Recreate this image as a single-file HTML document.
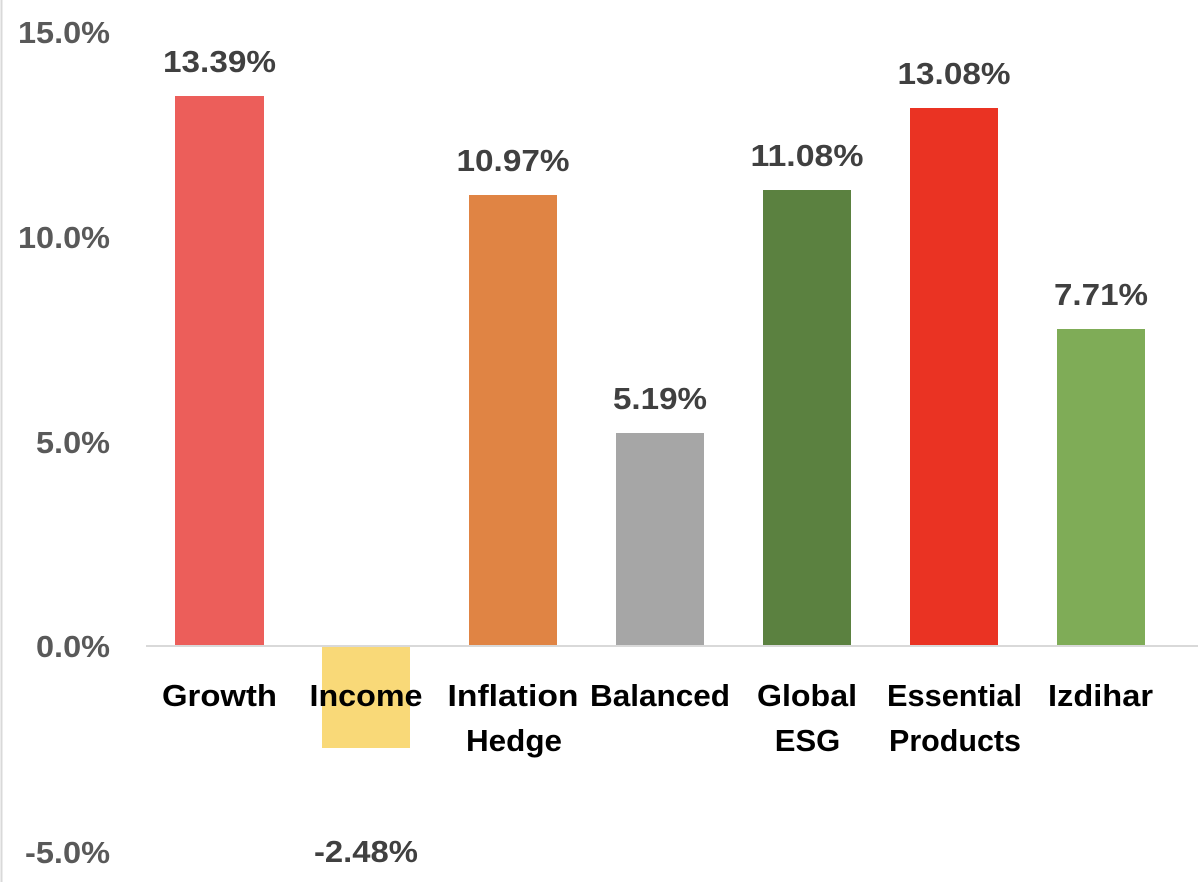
<!DOCTYPE html>
<html><head><style>
body{margin:0;background:#fff;}
svg text{font-family:"Liberation Sans",sans-serif;font-weight:bold;}
</style></head><body>
<svg width="1198" height="882" xmlns="http://www.w3.org/2000/svg">
<line x1="1.5" y1="0" x2="1.5" y2="882" stroke="#d9d9d9" stroke-width="2"/>
<g font-size="31" fill="#595959" text-anchor="end">
<text x="110" y="43" textLength="92" lengthAdjust="spacingAndGlyphs">15.0%</text>
<text x="110" y="248" textLength="92" lengthAdjust="spacingAndGlyphs">10.0%</text>
<text x="110" y="453" textLength="74" lengthAdjust="spacingAndGlyphs">5.0%</text>
<text x="110" y="657" textLength="74" lengthAdjust="spacingAndGlyphs">0.0%</text>
<text x="110" y="863" textLength="85" lengthAdjust="spacingAndGlyphs">-5.0%</text>
</g>
<rect x="175" y="96" width="89" height="550" fill="#EC5E5A"/>
<rect x="322" y="646" width="88" height="102" fill="#F9D978"/>
<rect x="469" y="195" width="88" height="451" fill="#E08444"/>
<rect x="616" y="433" width="88" height="213" fill="#A6A6A6"/>
<rect x="763" y="190" width="88" height="456" fill="#5B8140"/>
<rect x="910" y="108" width="88" height="538" fill="#EA3323"/>
<rect x="1057" y="329" width="88" height="317" fill="#7FAC57"/>
<line x1="146" y1="646" x2="1198" y2="646" stroke="#d9d9d9" stroke-width="2"/>
<g font-size="31" fill="#404040" text-anchor="middle">
<text x="219.5" y="72" textLength="113" lengthAdjust="spacingAndGlyphs">13.39%</text>
<text x="366" y="862" textLength="104" lengthAdjust="spacingAndGlyphs">-2.48%</text>
<text x="513" y="171" textLength="113" lengthAdjust="spacingAndGlyphs">10.97%</text>
<text x="660" y="409" textLength="94" lengthAdjust="spacingAndGlyphs">5.19%</text>
<text x="807" y="166" textLength="113" lengthAdjust="spacingAndGlyphs">11.08%</text>
<text x="954" y="84" textLength="113" lengthAdjust="spacingAndGlyphs">13.08%</text>
<text x="1101" y="305" textLength="94" lengthAdjust="spacingAndGlyphs">7.71%</text>
</g>
<g font-size="31" fill="#000" text-anchor="middle">
<text x="219.5" y="706" textLength="115" lengthAdjust="spacingAndGlyphs">Growth</text>
<text x="366" y="706" textLength="113" lengthAdjust="spacingAndGlyphs">Income</text>
<text x="513" y="706" textLength="131" lengthAdjust="spacingAndGlyphs">Inflation</text>
<text x="514" y="751" textLength="96" lengthAdjust="spacingAndGlyphs">Hedge</text>
<text x="660" y="706" textLength="140" lengthAdjust="spacingAndGlyphs">Balanced</text>
<text x="807" y="706" textLength="100" lengthAdjust="spacingAndGlyphs">Global</text>
<text x="807.5" y="751">ESG</text>
<text x="954.5" y="706" textLength="135" lengthAdjust="spacingAndGlyphs">Essential</text>
<text x="955" y="751" textLength="132" lengthAdjust="spacingAndGlyphs">Products</text>
<text x="1100.5" y="706" textLength="105" lengthAdjust="spacingAndGlyphs">Izdihar</text>
</g>
</svg>
</body></html>
